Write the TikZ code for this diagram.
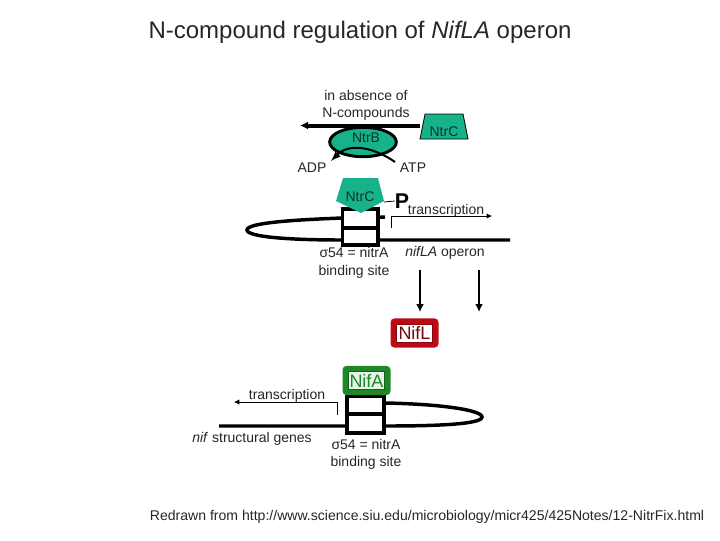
\documentclass[tikz,border=0pt]{standalone}
\usepackage{fontspec}
\setmainfont{Liberation Sans}
\usetikzlibrary{arrows.meta,shapes.geometric}
\definecolor{ntrteal}{RGB}{24,178,138}
\definecolor{nifred}{RGB}{190,10,20}
\definecolor{nifgreen}{RGB}{30,135,40}
\tikzset{
  lab/.style={font=\fontsize{10.5}{12.6}\selectfont,text=black!85,inner sep=0pt,align=center},
  dna/.style={line width=2.6pt},
  sitebox/.style={draw,line width=2.4pt,fill=white},
  ntr/.style={draw=black,fill=ntrteal,line width=0.6pt},
  fatarrow/.style={line width=2.2pt,-{Latex[length=6pt,width=6pt]}},
  thinarrow/.style={line width=0.6pt,-{Latex[length=4pt,width=4pt]}},
  nifbox/.style={rounded corners=3pt,minimum width=36pt,minimum height=22pt,line width=0pt},
  nifin/.style={font=\fontsize{13.5}{15}\selectfont,draw,line width=0.5pt,fill=white,inner sep=0pt,minimum width=27pt,minimum height=13.5pt}
}
\begin{document}
\begin{tikzpicture}[x=0.75pt,y=-0.75pt,>=latex]
\useasboundingbox (0,0) rectangle (720,540);

% Title and note at the foot
\node [font=\fontsize{18}{22}\selectfont,text=black!85,inner sep=0pt] (title) at (360,32) {N-compound regulation of \textit{NifLA} operon};
\node [lab,font=\fontsize{10.55}{13}\selectfont] (source) at (427,517) {Redrawn from http://www.science.siu.edu/microbiology/micr425/425Notes/12-NitrFix.html};
\node [lab] (absence) at (366,105) {in absence of\\N-compounds};

% NtrB with the ADP/ATP curve
\coordinate (atpend) at (395,162);
\coordinate (adpend) at (331,161);
\node [ellipse,draw,fill=ntrteal,line width=2.2pt,minimum width=50pt,minimum height=22pt,inner sep=0pt] (ntrb) at (363,142) {};
\draw [line width=1.5pt,->] (atpend) .. controls (375,148) and (350,142) .. (adpend);
\node [lab,text=black!70!ntrteal] (ntrblab) at (366,138) {NtrB};
\node [lab] (adp) at (312,168) {ADP};
\node [lab] (atp) at (413,168) {ATP};

% Free NtrC and the arrow to the left
\draw [ntr] (425,114) -- (463,114) -- (468,139) -- (420,139) -- cycle;
\node [lab,text=black!70!ntrteal] (ntrctop) at (444,132) {NtrC};
\coordinate (arrowend) at (300,125.5);
\coordinate (arrowstart) at (420,125.5);
\draw [fatarrow,line width=3pt] (arrowstart) -- (arrowend);

% Upper DNA loop with the binding site
\draw [dna] (385,217) -- (342,218) .. controls (290,220) and (247,223) .. (247,230) .. controls (247,237) and (290,240) .. (342,240) -- (510,240);
\draw [sitebox] (342.5,209) rectangle (378,245);
\draw [line width=2.4pt] (342.5,228) -- (378,228);

% Bound NtrC with its phosphate
\draw [ntr,draw=none] (343,178) -- (378,178) -- (384,201) -- (361,213) -- (336,201) -- cycle;
\node [lab,text=black!70!ntrteal] (ntrcbound) at (360,197) {NtrC};
\node [inner sep=0pt,font=\fontsize{16}{18}\bfseries] (phos) at (402,201) {P};
\draw [line width=0.6pt] (384,202) -- (phos.west);
\coordinate (txstart) at (391,228);
\coordinate (txend) at (492,216);
\node [lab] (txup) at (446,210.5) {transcription};
\draw [thinarrow] (txstart) |- (txend);
\node [lab] (sigup) at (354,262.5) {σ54 = nitrA\\[1pt]binding site};
\node [lab] (operon) at (445,253) {\textit{nifLA} operon};

% Translation into the two proteins
\foreach \xpos/\nam in {420/a,479/b} {
  \coordinate (from\nam) at (\xpos,270);
  \coordinate (to\nam) at (\xpos,312);
  \draw [fatarrow] (from\nam) -- (to\nam);
}
\node [nifbox,fill=nifred] (nifl) at (414.5,333) {};
\node [nifin,draw=nifred!70!black,text=nifred!60!black] (nifllab) at (nifl) {NifL};

% Lower DNA loop with the binding site
\draw [dna] (219,426) -- (385,426) .. controls (440,426) and (482,424) .. (482,417) .. controls (482,410) and (440,404) .. (385,403) -- (345,402);
\draw [sitebox] (347,396.5) rectangle (384,433);
\draw [line width=2.4pt] (347,414) -- (384,414);
\node [nifbox,fill=nifgreen] (nifa) at (366.5,380.5) {};
\node [nifin,draw=nifgreen!70!black,text=nifgreen,fill=white!90!nifgreen] (nifalab) at (nifa) {NifA};
\coordinate (txstartb) at (337,415);
\coordinate (txendb) at (234,402);
\node [lab] (txlow) at (287,396) {transcription};
\draw [thinarrow] (txstartb) |- (txendb);
\node [lab] (genes) at (252,439) {\textit{nif} structural genes};
\node [lab] (siglow) at (366,454) {σ54 = nitrA\\binding site};

\end{tikzpicture}
\end{document}
